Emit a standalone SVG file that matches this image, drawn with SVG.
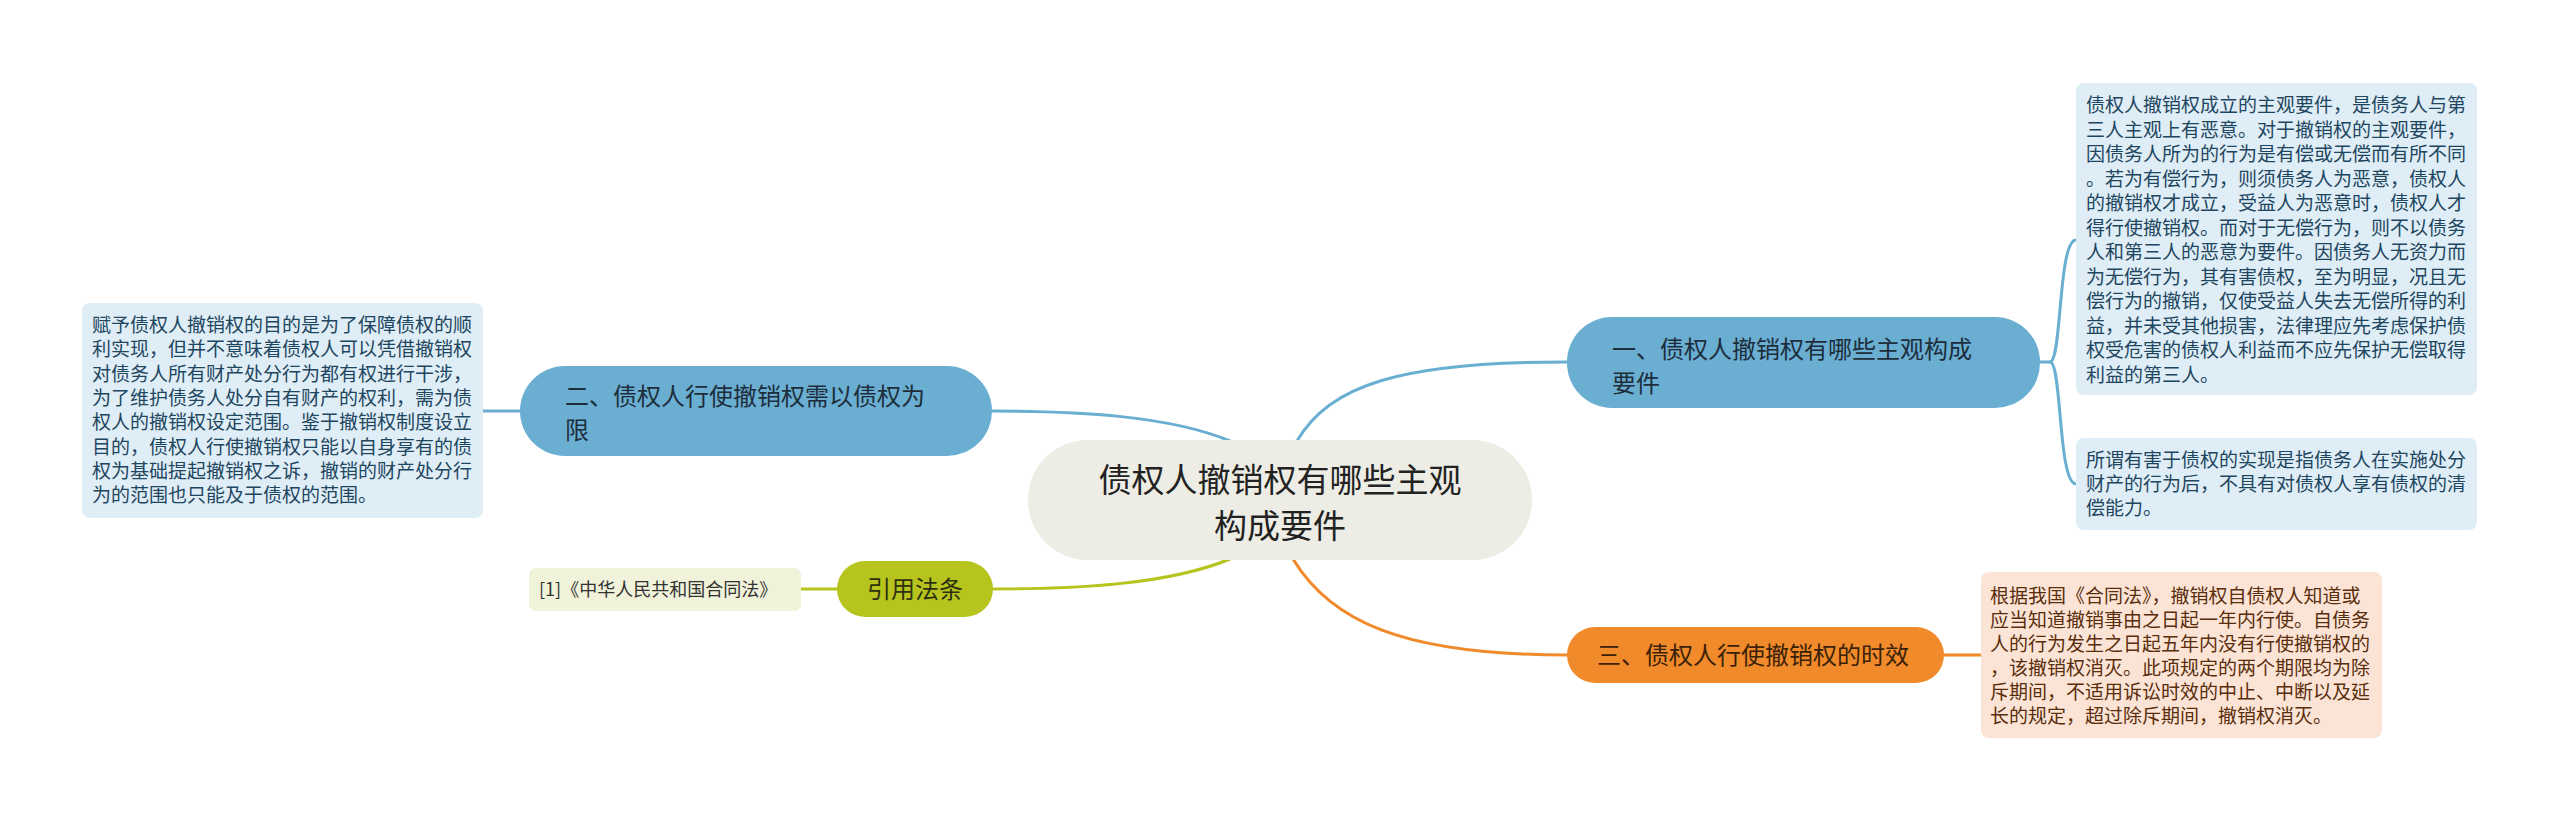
<svg xmlns="http://www.w3.org/2000/svg" width="2560" height="821" viewBox="0 0 2560 821">
<style>
text{font-family:"Noto Sans CJK SC","Noto Sans",sans-serif}
.c{fill:none;stroke-width:3;stroke-linecap:round}
.blue{stroke:#6aaed2}
.green{stroke:#b6c41d}
.orange{stroke:#f08a2b}
.bn{fill:#6aaed2}
.bt{font-size:24px;fill:#1d2d3b}
.lb{fill:#deedf6}
.lbt{font-size:19px;fill:#1e4660}
.lo{fill:#fbe4d5}
.lot{font-size:19px;fill:#5a2d0c}
</style>
<rect width="2560" height="821" fill="#ffffff"/>
<g id="connectors">
<path class="c blue" d="M1297 441 C1330 385 1400 362 1567 362"/>
<path class="c blue" d="M1230 441 C1170 416 1080 411 992 411"/>
<path class="c green" d="M1230 559 C1170 584 1080 589 993 589"/>
<path class="c orange" d="M1293 559 C1330 620 1400 655 1567 655"/>
<path class="c blue" d="M2040 362 L2050 362 C2062 362 2058 240 2076 240"/>
<path class="c blue" d="M2050 362 C2062 362 2058 484 2076 484"/>
<path class="c blue" d="M520 411 L483 411"/>
<path class="c green" d="M837 589 L801 589"/>
<path class="c orange" d="M1944 655 L1981 655"/>
</g>
<g id="center">
<rect x="1028" y="440" width="504" height="120" rx="60" fill="#edede5"/>
<text x="1280" y="492" font-size="33" fill="#222222" text-anchor="middle">债权人撤销权有哪些主观</text>
<text x="1280" y="538" font-size="33" fill="#222222" text-anchor="middle">构成要件</text>
</g>
<g id="node1">
<rect class="bn" x="1567" y="317" width="473" height="91" rx="45"/>
<text class="bt" x="1612" y="358">一、债权人撤销权有哪些主观构成</text>
<text class="bt" x="1612" y="392">要件</text>
</g>
<g id="leaf1a">
<rect class="lb" x="2076" y="83" width="401" height="312" rx="8"/>
<text class="lbt" x="2086" y="112">债权人撤销权成立的主观要件，是债务人与第</text>
<text class="lbt" x="2086" y="136.5">三人主观上有恶意。对于撤销权的主观要件，</text>
<text class="lbt" x="2086" y="161">因债务人所为的行为是有偿或无偿而有所不同</text>
<text class="lbt" x="2086" y="185.5">。若为有偿行为，则须债务人为恶意，债权人</text>
<text class="lbt" x="2086" y="210">的撤销权才成立，受益人为恶意时，债权人才</text>
<text class="lbt" x="2086" y="234.5">得行使撤销权。而对于无偿行为，则不以债务</text>
<text class="lbt" x="2086" y="259">人和第三人的恶意为要件。因债务人无资力而</text>
<text class="lbt" x="2086" y="283.5">为无偿行为，其有害债权，至为明显，况且无</text>
<text class="lbt" x="2086" y="308">偿行为的撤销，仅使受益人失去无偿所得的利</text>
<text class="lbt" x="2086" y="332.5">益，并未受其他损害，法律理应先考虑保护债</text>
<text class="lbt" x="2086" y="357">权受危害的债权人利益而不应先保护无偿取得</text>
<text class="lbt" x="2086" y="381.5">利益的第三人。</text>
</g>
<g id="leaf1b">
<rect class="lb" x="2076" y="438" width="401" height="92" rx="8"/>
<text class="lbt" x="2086" y="467">所谓有害于债权的实现是指债务人在实施处分</text>
<text class="lbt" x="2086" y="491">财产的行为后，不具有对债权人享有债权的清</text>
<text class="lbt" x="2086" y="515">偿能力。</text>
</g>
<g id="node2">
<rect class="bn" x="520" y="366" width="472" height="90" rx="45"/>
<text class="bt" x="565" y="405">二、债权人行使撤销权需以债权为</text>
<text class="bt" x="565" y="439">限</text>
</g>
<g id="leaf2">
<rect class="lb" x="82" y="303" width="401" height="215" rx="8"/>
<text class="lbt" x="92" y="332">赋予债权人撤销权的目的是为了保障债权的顺</text>
<text class="lbt" x="92" y="356.3">利实现，但并不意味着债权人可以凭借撤销权</text>
<text class="lbt" x="92" y="380.6">对债务人所有财产处分行为都有权进行干涉，</text>
<text class="lbt" x="92" y="404.9">为了维护债务人处分自有财产的权利，需为债</text>
<text class="lbt" x="92" y="429.2">权人的撤销权设定范围。鉴于撤销权制度设立</text>
<text class="lbt" x="92" y="453.5">目的，债权人行使撤销权只能以自身享有的债</text>
<text class="lbt" x="92" y="477.8">权为基础提起撤销权之诉，撤销的财产处分行</text>
<text class="lbt" x="92" y="502.1">为的范围也只能及于债权的范围。</text>
</g>
<g id="node3">
<rect x="837" y="561" width="156" height="56" rx="28" fill="#b6c41d"/>
<text x="915" y="598" font-size="24" fill="#2e3010" text-anchor="middle">引用法条</text>
</g>
<g id="leaf3">
<rect x="529" y="568" width="272" height="43" rx="7" fill="#f0f2d9"/>
<text x="539" y="596" font-size="18" fill="#333333">[1]《中华人民共和国合同法》</text>
</g>
<g id="node4">
<rect x="1567" y="627" width="377" height="56" rx="28" fill="#f08a2b"/>
<text class="bt" x="1597" y="664" fill="#3a2108" style="fill:#3a2108">三、债权人行使撤销权的时效</text>
</g>
<g id="leaf4">
<rect class="lo" x="1981" y="572" width="401" height="166" rx="8"/>
<text class="lot" x="1990" y="603">根据我国《合同法》，撤销权自债权人知道或</text>
<text class="lot" x="1990" y="627">应当知道撤销事由之日起一年内行使。自债务</text>
<text class="lot" x="1990" y="651">人的行为发生之日起五年内没有行使撤销权的</text>
<text class="lot" x="1990" y="675">，该撤销权消灭。此项规定的两个期限均为除</text>
<text class="lot" x="1990" y="699">斥期间，不适用诉讼时效的中止、中断以及延</text>
<text class="lot" x="1990" y="723">长的规定，超过除斥期间，撤销权消灭。</text>
</g>
</svg>
